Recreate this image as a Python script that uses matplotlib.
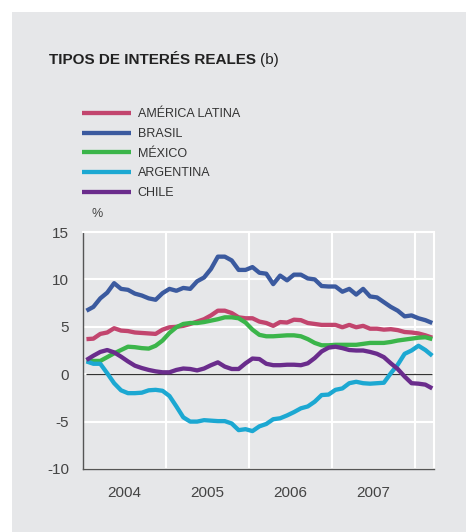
import numpy as np
import matplotlib
matplotlib.use("Agg")
from matplotlib import pyplot as plt
from matplotlib.patches import Rectangle

plt.rcParams['font.family'] = ['Liberation Sans', 'DejaVu Sans']

# monthly, Jan 2004 .. Mar 2008
start_year = 2004
years = ['2004', '2005', '2006', '2007']

america_latina = [3.7, 3.75, 4.25, 4.4, 4.85, 4.6, 4.55, 4.4, 4.35, 4.3, 4.25, 4.7,
                  4.95, 5.0, 5.1, 5.3, 5.55, 5.8, 6.2, 6.7, 6.7, 6.45, 6.0, 5.9,
                  5.9, 5.55, 5.4, 5.1, 5.5, 5.45, 5.75, 5.7, 5.4, 5.3, 5.2, 5.2,
                  5.2, 4.95, 5.2, 4.95, 5.1, 4.8, 4.8, 4.7, 4.75, 4.65, 4.45, 4.4,
                  4.3, 4.1, 3.85]
brasil = [6.7, 7.1, 8.0, 8.6, 9.6, 9.0, 8.9, 8.5, 8.3, 8.0, 7.85, 8.55,
          9.0, 8.8, 9.1, 9.0, 9.8, 10.2, 11.1, 12.4, 12.4, 12.0, 11.0, 11.0,
          11.3, 10.7, 10.6, 9.5, 10.4, 9.9, 10.5, 10.5, 10.1, 10.0, 9.3, 9.25,
          9.25, 8.7, 9.0, 8.4, 9.0, 8.2, 8.1, 7.6, 7.1, 6.7, 6.1, 6.2,
          5.9, 5.7, 5.4]
mexico = [1.45, 1.4, 1.4, 1.8, 2.2, 2.55, 2.9, 2.85, 2.75, 2.7, 3.0, 3.55,
          4.35, 4.95, 5.3, 5.4, 5.4, 5.5, 5.65, 5.8, 6.0, 6.0, 5.9, 5.45,
          4.7, 4.15, 4.0, 4.0, 4.05, 4.1, 4.1, 4.0, 3.7, 3.3, 3.05, 3.05,
          3.1, 3.1, 3.1, 3.1, 3.2, 3.3, 3.3, 3.3, 3.4, 3.55, 3.65, 3.75,
          3.85, 3.9, 3.7]
argentina = [1.35, 1.1, 1.1, 0.1, -0.95, -1.7, -2.0, -2.0, -1.95, -1.7, -1.65, -1.75,
             -2.3, -3.4, -4.55, -5.0, -5.0, -4.85, -4.9, -4.95, -4.95, -5.2, -5.9, -5.8,
             -6.0, -5.5, -5.25, -4.75, -4.65, -4.35, -4.0, -3.6, -3.4, -2.9, -2.2, -2.15,
             -1.65, -1.5, -0.95, -0.8, -0.95, -1.0, -0.95, -0.9, 0.1, 1.0, 2.15, 2.5,
             3.0, 2.55, 1.95]
chile = [1.5, 1.95, 2.35, 2.55, 2.3, 1.85, 1.35, 0.9, 0.65, 0.45, 0.3, 0.2,
         0.2, 0.45, 0.6, 0.55, 0.4, 0.6, 0.95, 1.25, 0.8, 0.55, 0.55, 1.15,
         1.65, 1.6, 1.1, 0.95, 0.95, 1.0, 1.0, 0.95, 1.15, 1.7, 2.4, 2.8,
         2.9, 2.75, 2.55, 2.5, 2.5, 2.35, 2.15, 1.8, 1.15, 0.55, -0.25, -0.95,
         -1.0, -1.1, -1.5]

series = [
    ('AMÉRICA LATINA', america_latina, '#c2456e'),
    ('BRASIL', brasil, '#3b5a9f'),
    ('MÉXICO', mexico, '#3bb54a'),
    ('ARGENTINA', argentina, '#1ca8d2'),
    ('CHILE', chile, '#6a2c8c'),
]

W, H = 466, 532
bg = '#e6e7e9'
fig = plt.figure(figsize=(W / 100, H / 100), dpi=100, facecolor='white')
# grey panel, white strip top and left
fig.patches.append(Rectangle((12 / W, 0), 1 - 12 / W, 1 - 12 / H,
                             transform=fig.transFigure, facecolor=bg,
                             edgecolor='none', zorder=-10))

ax = fig.add_axes([83 / W, 1 - 469 / H, (434 - 83) / W, (469 - 232) / H])
ax.set_facecolor(bg)

n = len(brasil)
x = start_year + (np.arange(n) + 0.5) / 12

for name, vals, col in series:
    ax.plot(x, vals, color=col, lw=3.1, label=name, solid_capstyle='butt', zorder=3)

ax.hlines(0, x[0], x[-1], color='#333333', lw=0.9, zorder=2)

ax.set_xlim(2004, 2004 + (434 - 83) / 83)
ax.set_ylim(-10, 15)
ax.set_yticks([-10, -5, 0, 5, 10, 15])
ax.set_yticklabels(['-10', '-5', '0', '5', '10', '15'])
ax.set_xticks([2005, 2006, 2007, 2008])
ax.set_xticklabels([])
ax.set_xticks([int(y) + 0.5 for y in years], minor=True)
ax.set_xticklabels(years, minor=True)
ax.grid(True, which='major', color='white', lw=1.5, zorder=1)
ax.tick_params(which='both', length=0, labelsize=11, labelcolor='#444444')
ax.tick_params(axis='y', pad=10)
ax.tick_params(axis='x', which='minor', pad=12)

for s in ['top', 'right']:
    ax.spines[s].set_color('white')
    ax.spines[s].set_linewidth(1.5)
for s in ['left', 'bottom']:
    ax.spines[s].set_color('#555555')
    ax.spines[s].set_linewidth(1.0)

title = fig.text(49 / W, 1 - 60 / H, 'TIPOS DE INTERÉS REALES', fontsize=11,
                 fontweight='bold', color='#222222', va='center', ha='left')
ax.annotate('(b)', xy=(1, 0.5), xycoords=title, xytext=(3, 0),
            textcoords='offset points', fontsize=11, color='#222222',
            va='center', ha='left', annotation_clip=False)
fig.text(92 / W, 1 - 214 / H, '%', fontsize=9, color='#444444',
         va='center', ha='left')

handles, labels = ax.get_legend_handles_labels()
fig.legend(handles, labels, loc='upper left',
           bbox_to_anchor=(71 / W, 1 - 97 / H), frameon=False,
           fontsize=9, handlelength=3.9, handletextpad=0.55,
           labelspacing=0.62, labelcolor='#333333')

fig.savefig('out.png', dpi=100, facecolor='white')
